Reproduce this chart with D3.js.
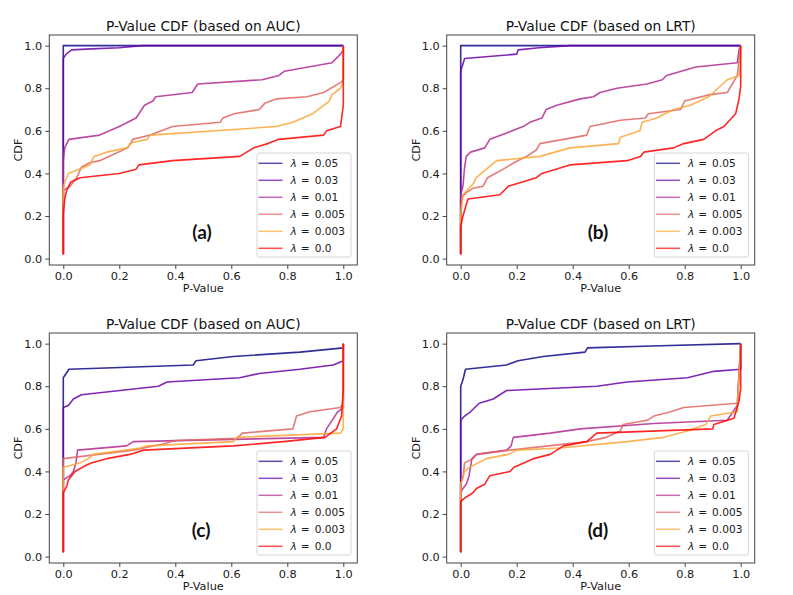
<!DOCTYPE html>
<html>
<head>
<meta charset="utf-8">
<script src="https://cdn.jsdelivr.net/npm/d3@7"></script>
<style>
  body { margin: 0; background: #fff; }
  text { font-family: "DejaVu Sans", sans-serif; }
</style>
</head>
<body>
<script>
// lambda levels and their colours (plasma steps + red)
var lambdas = ["0.05", "0.03", "0.01", "0.005", "0.003", "0.0"];
var colors = ["#0d0887", "#6a00a8", "#b12a90", "#e16462", "#fca636", "#ff0000"];
var ticks = [0, 0.2, 0.4, 0.6, 0.8, 1.0];

// (a) AUC, one array of [p, cdf] per lambda
var cdfA = [
  [[0,0.02],[0,1],[1,1]],
  [[0,0.02],[0,0.94],[0.01,0.96],[0.03,0.98],[0.1,0.985],[0.2,0.99],[0.28,1],[1,1]],
  [[0,0.02],[0,0.46],[0.005,0.52],[0.02,0.56],[0.13,0.58],[0.2,0.62],[0.23,0.64],[0.26,0.66],[0.27,0.68],[0.29,0.72],[0.32,0.74],[0.33,0.76],[0.46,0.78],[0.48,0.82],[0.71,0.84],[0.77,0.86],[0.79,0.88],[0.96,0.92],[0.99,0.96],[1,0.98],[1,1]],
  [[0,0.02],[0,0.32],[0.024,0.34],[0.048,0.38],[0.065,0.43],[0.095,0.45],[0.13,0.46],[0.18,0.49],[0.23,0.52],[0.248,0.56],[0.31,0.58],[0.39,0.62],[0.56,0.64],[0.57,0.66],[0.61,0.68],[0.70,0.70],[0.72,0.73],[0.76,0.75],[0.87,0.76],[0.93,0.78],[0.994,0.83],[1,0.84],[1,1]],
  [[0,0.02],[0,0.34],[0.018,0.40],[0.095,0.44],[0.11,0.48],[0.155,0.50],[0.226,0.52],[0.246,0.545],[0.30,0.56],[0.31,0.58],[0.76,0.62],[0.82,0.64],[0.89,0.68],[0.93,0.72],[0.95,0.74],[0.96,0.77],[0.99,0.80],[1,0.83],[1,1]],
  [[0,0.02],[0,0.21],[0.005,0.28],[0.012,0.32],[0.027,0.36],[0.06,0.38],[0.20,0.40],[0.26,0.42],[0.27,0.44],[0.39,0.46],[0.63,0.48],[0.68,0.52],[0.73,0.54],[0.77,0.56],[0.93,0.58],[0.94,0.60],[0.99,0.62],[1,0.72],[1,1]]
];

// (b) LRT
var cdfB = [
  [[0,0.02],[0,1],[1,1]],
  [[0,0.02],[0,0.88],[0.014,0.94],[0.2,0.96],[0.205,0.98],[0.28,0.99],[0.39,1],[1,1]],
  [[0,0.02],[0,0.30],[0.008,0.34],[0.014,0.43],[0.02,0.48],[0.035,0.50],[0.086,0.52],[0.104,0.56],[0.164,0.59],[0.223,0.62],[0.247,0.64],[0.29,0.66],[0.305,0.70],[0.343,0.72],[0.427,0.75],[0.474,0.76],[0.498,0.78],[0.558,0.80],[0.665,0.82],[0.72,0.84],[0.735,0.86],[0.84,0.90],[0.988,0.92],[0.994,0.98],[1,1]],
  [[0,0.02],[0,0.22],[0.006,0.29],[0.02,0.31],[0.044,0.33],[0.08,0.34],[0.096,0.38],[0.152,0.42],[0.19,0.45],[0.235,0.48],[0.27,0.51],[0.283,0.54],[0.45,0.58],[0.462,0.62],[0.57,0.65],[0.66,0.66],[0.67,0.68],[0.785,0.70],[0.80,0.74],[0.89,0.77],[0.952,0.78],[0.988,0.86],[1,1]],
  [[0,0.02],[0,0.20],[0.008,0.30],[0.044,0.35],[0.056,0.38],[0.092,0.42],[0.128,0.46],[0.283,0.48],[0.39,0.52],[0.564,0.54],[0.57,0.57],[0.64,0.60],[0.648,0.64],[0.70,0.66],[0.76,0.70],[0.82,0.72],[0.886,0.76],[0.952,0.84],[0.994,0.86],[0.998,0.90],[1,1]],
  [[0,0.02],[0,0.15],[0.008,0.20],[0.026,0.28],[0.14,0.30],[0.17,0.34],[0.27,0.38],[0.29,0.40],[0.39,0.44],[0.594,0.46],[0.642,0.48],[0.654,0.50],[0.76,0.52],[0.797,0.54],[0.868,0.56],[0.91,0.60],[0.94,0.62],[0.982,0.68],[0.994,0.75],[1,0.81],[1,1]]
];

// (c) AUC
var cdfC = [
  [[0,0.02],[0,0.84],[0.02,0.88],[0.464,0.90],[0.474,0.92],[0.607,0.94],[0.845,0.96],[1,0.98],[1,1]],
  [[0,0.02],[0,0.70],[0.018,0.71],[0.036,0.74],[0.065,0.76],[0.34,0.80],[0.37,0.82],[0.63,0.84],[0.70,0.86],[0.845,0.88],[0.964,0.90],[1,0.92],[1,1]],
  [[0,0.02],[0,0.36],[0.024,0.38],[0.036,0.40],[0.045,0.44],[0.051,0.50],[0.226,0.52],[0.25,0.54],[0.93,0.56],[0.94,0.60],[0.96,0.64],[0.98,0.68],[1,0.70],[1,1]],
  [[0,0.02],[0,0.46],[0.25,0.50],[0.36,0.53],[0.40,0.545],[0.62,0.555],[0.64,0.58],[0.82,0.60],[0.833,0.66],[0.88,0.68],[0.99,0.70],[1,0.72],[1,1]],
  [[0,0.02],[0,0.42],[0.06,0.44],[0.09,0.46],[0.107,0.48],[0.274,0.51],[0.30,0.52],[0.607,0.54],[0.62,0.56],[0.99,0.58],[1,0.60],[1,1]],
  [[0,0.02],[0,0.30],[0.012,0.33],[0.018,0.36],[0.03,0.38],[0.042,0.40],[0.083,0.43],[0.10,0.44],[0.155,0.46],[0.238,0.48],[0.286,0.50],[0.607,0.52],[0.786,0.54],[0.935,0.56],[0.976,0.60],[0.994,0.66],[1,0.79],[1,1]]
];

// (d) LRT
var cdfD = [
  [[0,0.02],[0,0.80],[0.008,0.83],[0.017,0.88],[0.164,0.90],[0.205,0.92],[0.295,0.94],[0.444,0.96],[0.453,0.98],[0.713,0.99],[1,1]],
  [[0,0.02],[0,0.64],[0.014,0.66],[0.035,0.68],[0.066,0.72],[0.116,0.74],[0.164,0.78],[0.26,0.786],[0.486,0.80],[0.594,0.82],[0.81,0.84],[0.904,0.87],[1,0.88],[1,1]],
  [[0,0.02],[0,0.30],[0.008,0.32],[0.02,0.34],[0.03,0.38],[0.04,0.46],[0.056,0.48],[0.164,0.50],[0.18,0.52],[0.188,0.56],[0.32,0.58],[0.427,0.60],[0.69,0.625],[0.952,0.64],[0.988,0.71],[1,1]],
  [[0,0.02],[0,0.34],[0.008,0.37],[0.014,0.44],[0.044,0.46],[0.056,0.48],[0.176,0.50],[0.45,0.54],[0.52,0.56],[0.57,0.59],[0.58,0.62],[0.666,0.64],[0.69,0.66],[0.75,0.68],[0.797,0.70],[0.988,0.72],[1,1]],
  [[0,0.02],[0,0.34],[0.014,0.40],[0.032,0.42],[0.092,0.46],[0.17,0.48],[0.2,0.50],[0.355,0.51],[0.594,0.54],[0.725,0.56],[0.81,0.59],[0.875,0.62],[0.893,0.66],[0.988,0.68],[1,1]],
  [[0,0.02],[0,0.26],[0.02,0.28],[0.044,0.30],[0.056,0.32],[0.086,0.34],[0.104,0.38],[0.176,0.40],[0.19,0.42],[0.26,0.46],[0.32,0.48],[0.367,0.52],[0.45,0.54],[0.486,0.58],[0.9,0.60],[0.904,0.62],[0.976,0.65],[0.994,0.73],[1,0.79],[1,1]]
];

var W = 793, H = 595;
var fw = 308, fh = 230;

var svg = d3.select('body').append('svg').attr('width', W).attr('height', H)
  .style('background', '#fff');

function panel(left, top, title, tag, series) {
  var x = d3.scaleLinear().domain([-0.05, 1.05]).range([left, left + fw]);
  var y = d3.scaleLinear().domain([-0.03, 1.05]).range([top + fh, top]);
  var g = svg.append('g');

  var line = d3.line().x(function(d){ return x(d[0]); }).y(function(d){ return y(d[1]); });
  series.forEach(function(s, i) {
    g.append('path').attr('d', line(s)).attr('fill', 'none')
      .attr('stroke', colors[i]).attr('stroke-width', 1.6).attr('stroke-opacity', 0.85)
      .attr('stroke-linejoin', 'round');
  });

  // axes
  var ax = g.append('g').attr('transform', 'translate(0,' + (top + fh) + ')')
    .call(d3.axisBottom(x).tickValues(ticks).tickFormat(d3.format('.1f')).tickSize(4).tickPadding(3));
  var ay = g.append('g').attr('transform', 'translate(' + left + ',0)')
    .call(d3.axisLeft(y).tickValues(ticks).tickFormat(d3.format('.1f')).tickSize(4).tickPadding(3));
  [ax, ay].forEach(function(a) {
    a.select('.domain').remove();
    a.selectAll('line').attr('stroke', '#444');
    a.selectAll('text').attr('font-size', 11.3).attr('fill', '#1a1a1a')
      .style('font-family', '"DejaVu Sans", sans-serif');
  });

  g.append('rect').attr('x', left).attr('y', top).attr('width', fw).attr('height', fh)
    .attr('fill', 'none').attr('stroke', '#444').attr('stroke-width', 1);

  g.append('text').attr('x', left + fw / 2).attr('y', top - 4.5).attr('text-anchor', 'middle')
    .attr('font-size', 13.8).attr('fill', '#111').text(title);
  g.append('text').attr('x', left + fw / 2).attr('y', top + fh + 27).attr('text-anchor', 'middle')
    .attr('font-size', 11.3).attr('fill', '#1a1a1a').text('P-Value');
  g.append('text').attr('transform', 'translate(' + (left - 27) + ',' + (top + fh / 2) + ') rotate(-90)')
    .attr('text-anchor', 'middle').attr('font-size', 11.3).attr('fill', '#1a1a1a').text('CDF');

  // legend
  var lw = 94, lh = 104;
  var lx = left + fw - 6.3 - lw, ly = top + fh - 8 - lh;
  var lg = g.append('g');
  lg.append('rect').attr('x', lx).attr('y', ly).attr('width', lw).attr('height', lh)
    .attr('rx', 2).attr('fill', '#fff').attr('fill-opacity', 0.85).attr('stroke', '#d6d6d6');
  lambdas.forEach(function(l, i) {
    var ry = ly + 10.3 + i * 17;
    lg.append('line').attr('x1', lx + 1.5).attr('x2', lx + 25.5).attr('y1', ry).attr('y2', ry)
      .attr('stroke', colors[i]).attr('stroke-width', 1.5).attr('stroke-opacity', 0.7);
    var t = lg.append('text').attr('x', lx + 33.5).attr('y', ry + 4).attr('font-size', 10.6).attr('fill', '#1a1a1a');
    t.append('tspan').attr('font-style', 'italic').text('λ');
    t.append('tspan').attr('dx', 4).text('=');
    t.append('tspan').attr('dx', 5).text(l);
  });

  g.append('text').attr('x', tag[1]).attr('y', tag[2]).attr('text-anchor', 'middle')
    .attr('font-size', 19).attr('font-weight', 'bold').attr('fill', '#111')
    .style('font-family', 'Lato, "Open Sans", sans-serif').text(tag[0]);
}

panel(49.3, 35, 'P-Value CDF (based on AUC)', ['(a)', 202, 238.5], cdfA);
panel(446.7, 35, 'P-Value CDF (based on LRT)', ['(b)', 598, 238.5], cdfB);
panel(49.3, 333, 'P-Value CDF (based on AUC)', ['(c)', 201, 536.5], cdfC);
panel(446.7, 333, 'P-Value CDF (based on LRT)', ['(d)', 598, 536.5], cdfD);
</script>
</body>
</html>
